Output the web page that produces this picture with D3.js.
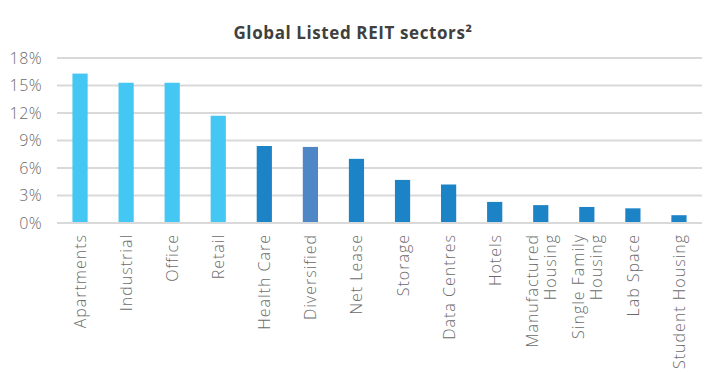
<!DOCTYPE html>
<html>
<head>
<meta charset="utf-8">
<script src="https://cdn.jsdelivr.net/npm/d3@7"></script>
<style>
  html, body { margin: 0; padding: 0; background: #fff; }
  svg { display: block; }
</style>
</head>
<body>
<svg id="chart" width="707" height="372"></svg>
<script>
// Sector weights (% of global listed REIT market)
const sectors = [
  ["Apartments"], ["Industrial"], ["Office"], ["Retail"], ["Health Care"],
  ["Diversified"], ["Net Lease"], ["Storage"], ["Data Centres"], ["Hotels"],
  ["Manufactured", "Housing"], ["Single Family", "Housing"], ["Lab Space"], ["Student Housing"]
];
const weights = [16.3, 15.3, 15.3, 11.7, 8.4, 8.3, 7.0, 4.7, 4.2, 2.3, 1.95, 1.75, 1.6, 0.85];
const sectorGroup = ["core", "core", "core", "core", "alt", "div", "alt", "alt", "alt", "alt", "alt", "alt", "alt", "alt"];
const yTicks = [0, 3, 6, 9, 12, 15, 18];

const colors = { core: "#45c7f4", alt: "#1d83c7", div: "#4f86c6" };

const svg = d3.select("#chart");
const margin = { left: 57, right: 5, top: 58, bottom: 149 };
const W = 707, H = 372;
const font = "'Open Sans', sans-serif";

const x = d3.scaleBand()
  .domain(d3.range(sectors.length))
  .range([margin.left, W - margin.right])
  .paddingInner(0.67)
  .paddingOuter(0.335);

const y = d3.scaleLinear()
  .domain([0, 18])
  .range([H - margin.bottom, margin.top]);

// Title
svg.append("text")
  .attr("x", 353)
  .attr("y", 39)
  .attr("text-anchor", "middle")
  .attr("font-family", font)
  .attr("font-weight", 700)
  .attr("font-size", 17)
  .attr("letter-spacing", 0.6)
  .attr("fill", "#404040")
  .text("Global Listed REIT sectors²");

// Gridlines
svg.append("g")
  .selectAll("line")
  .data(yTicks)
  .join("line")
  .attr("x1", margin.left)
  .attr("x2", W - margin.right)
  .attr("y1", d => y(d))
  .attr("y2", d => y(d))
  .attr("stroke", "#d9d9d9")
  .attr("stroke-width", 2);

// Y axis labels
const yAxis = d3.axisLeft(y)
  .tickValues(yTicks)
  .tickFormat(d => d + "%")
  .tickSize(0)
  .tickPadding(15);

const yg = svg.append("g")
  .attr("transform", `translate(${margin.left},0)`)
  .call(yAxis);
yg.select(".domain").remove();
yg.selectAll("text")
  .attr("font-family", font)
  .attr("font-weight", 300)
  .attr("font-size", 16)
  .attr("letter-spacing", 0.4)
  .attr("fill", "#6b6b6b");

// Bars
svg.append("g")
  .selectAll("rect")
  .data(weights)
  .join("rect")
  .attr("x", (d, i) => x(i))
  .attr("width", x.bandwidth())
  .attr("y", d => y(d))
  .attr("height", d => y(0) - y(d) - 1)
  .attr("fill", (d, i) => colors[sectorGroup[i]]);

// X axis labels, rotated
const xl = svg.append("g");
sectors.forEach((lines, i) => {
  const cx = x(i) + x.bandwidth() / 2;
  const n = lines.length;
  const t = xl.append("text")
    .attr("transform", `translate(${cx},234) rotate(-90)`)
    .attr("text-anchor", "end")
    .attr("font-family", font)
    .attr("font-weight", 300)
    .attr("font-size", 16)
    .attr("letter-spacing", 1.0)
    .attr("fill", "#6b6b6b");
  lines.forEach((s, k) => {
    t.append("tspan")
      .attr("x", 0)
      .attr("y", (k - (n - 1) / 2) * 18 + 6)
      .text(s);
  });
});
</script>
</body>
</html>
